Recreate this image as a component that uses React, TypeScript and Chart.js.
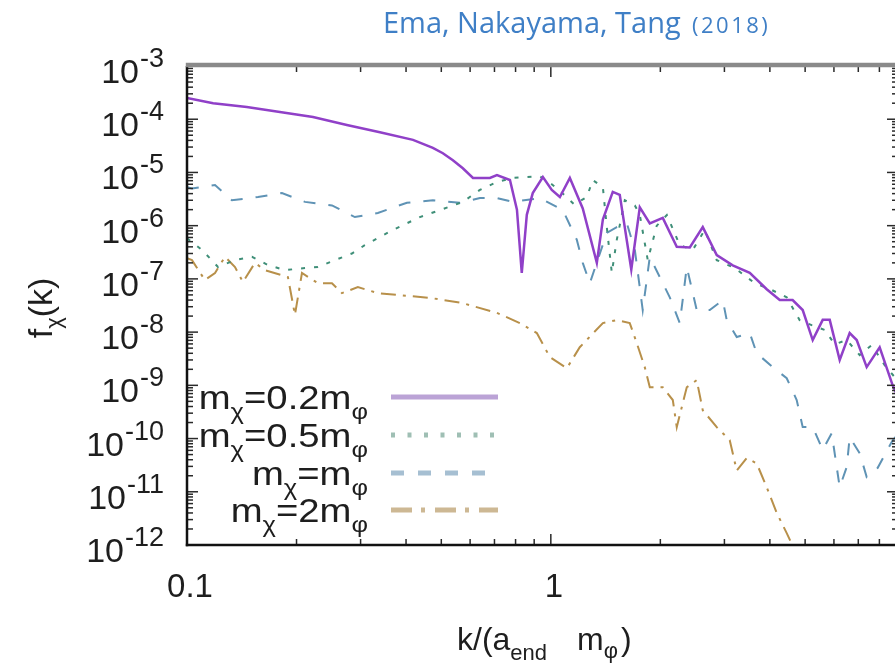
import { useEffect, useRef } from "react";
import { Chart, registerables } from "chart.js";

Chart.register(...registerables);

// Spectra f_chi(k) versus k/(a_end m_phi) for four mass ratios
const k02 = [0.100, 0.118, 0.146, 0.180, 0.222, 0.275, 0.339, 0.418, 0.474, 0.505, 0.538, 0.573, 0.611, 0.680, 0.711, 0.772, 0.807, 0.832, 0.859, 0.892, 0.951, 1.006, 1.059, 1.128, 1.224, 1.338, 1.390, 1.480, 1.547, 1.664, 1.756, 1.871, 2.031, 2.219, 2.41, 2.616, 2.858, 3.162, 3.522, 3.921, 4.258, 4.62, 4.924, 5.246, 5.589, 5.842, 6.223, 6.629, 6.93, 7.382, 8.014, 8.702, 9.0];
const f02 = [2.5e-4, 2.0e-4, 1.7e-4, 1.37e-4, 1.1e-4, 7.8e-5, 5.7e-5, 4.1e-5, 2.9e-5, 2.3e-5, 1.7e-5, 1.2e-5, 7.9e-6, 7.9e-6, 8.9e-6, 7.2e-6, 2.0e-6, 1.3e-7, 1.6e-6, 4.1e-6, 8.2e-6, 4.7e-6, 3.45e-6, 7.9e-6, 2.1e-6, 2.0e-7, 1.3e-6, 4.3e-6, 3.8e-6, 1.5e-7, 2.2e-6, 1.1e-6, 1.4e-6, 4.0e-7, 3.9e-7, 9.4e-7, 2.8e-7, 1.8e-7, 1.3e-7, 6.4e-8, 4.0e-8, 4.0e-8, 2.6e-8, 7.1e-9, 1.7e-8, 1.7e-8, 3.0e-9, 9.6e-9, 7.1e-9, 2.2e-9, 5.2e-9, 1.0e-9, 6.0e-10];

const k05 = [0.100, 0.110, 0.1217, 0.1355, 0.1509, 0.167, 0.1858, 0.211, 0.229, 0.255, 0.284, 0.308, 0.3346, 0.368, 0.4366, 0.4955, 0.5731, 0.6383, 0.7107, 0.7863, 0.9328, 1.006, 1.079, 1.16, 1.256, 1.304, 1.390, 1.425, 1.471, 1.518, 1.597, 1.702, 1.756, 1.847, 1.955, 2.084, 2.262, 2.455, 2.649, 2.858, 3.203, 3.634, 4.046, 4.45, 4.83, 5.21, 5.66, 6.03, 6.505, 7.063, 7.62, 8.27, 9.0];
const f05 = [5.8e-7, 3.5e-7, 1.67e-7, 2.25e-7, 2.6e-7, 1.82e-7, 1.46e-7, 1.6e-7, 1.67e-7, 2.25e-7, 3.0e-7, 4.3e-7, 5.85e-7, 8.3e-7, 1.45e-6, 1.96e-6, 2.8e-6, 4.7e-6, 6.6e-6, 7.9e-6, 8.5e-6, 6.0e-6, 4.0e-6, 2.5e-6, 3.45e-6, 7.2e-6, 5.3e-6, 9.4e-7, 1.3e-7, 5.4e-7, 3.0e-6, 2.4e-6, 1.6e-6, 2.25e-7, 1.0e-6, 1.58e-6, 4.3e-7, 3.5e-7, 8.3e-7, 2.25e-7, 1.6e-7, 8.3e-8, 6.2e-8, 4.5e-8, 1.68e-8, 1.35e-8, 1.1e-8, 5.9e-9, 7.1e-9, 3.7e-9, 5.7e-9, 2.4e-9, 1.2e-9];

const k1 = [0.100, 0.1032, 0.1194, 0.1329, 0.1567, 0.1824, 0.211, 0.2503, 0.2893, 0.3346, 0.4022, 0.474, 0.5623, 0.6383, 0.7107, 0.7863, 0.9328, 1.079, 1.179, 1.224, 1.28, 1.425, 1.518, 1.617, 1.702, 1.789, 1.871, 1.993, 2.123, 2.262, 2.364, 2.518, 2.734, 2.969, 3.044, 3.243, 3.522, 3.681, 4.073, 4.45, 4.74, 4.924, 5.246, 5.589, 5.916, 6.223, 6.505, 6.629, 7.063, 7.382, 7.91, 8.702, 9.0];
const f1 = [5.3e-6, 5.0e-6, 5.8e-6, 3.0e-6, 3.45e-6, 4.1e-6, 2.8e-6, 2.4e-6, 1.45e-6, 1.73e-6, 2.7e-6, 3.0e-6, 2.7e-6, 3.3e-6, 3.3e-6, 2.8e-6, 3.3e-6, 1.96e-6, 5.4e-7, 2.0e-7, 8.3e-8, 7.3e-7, 9.4e-7, 1.12e-6, 3.5e-7, 2.6e-8, 2.6e-7, 1.08e-7, 4.5e-8, 1.48e-8, 1.67e-7, 2.6e-8, 2.6e-8, 4.0e-8, 1.68e-8, 8.1e-9, 9.6e-9, 4.0e-9, 2.2e-9, 1.36e-9, 5.3e-10, 1.64e-10, 1.64e-10, 6.1e-11, 1.26e-10, 1.22e-11, 2.9e-11, 1.06e-10, 5.3e-11, 1.9e-11, 2.8e-11, 9.3e-11, 1.2e-10];

const k2 = [0.100, 0.1032, 0.112, 0.1194, 0.1272, 0.1355, 0.1425, 0.1537, 0.1637, 0.1894, 0.198, 0.207, 0.229, 0.2503, 0.2666, 0.2949, 0.3346, 0.3775, 0.4652, 0.5731, 0.7107, 0.8218, 0.9152, 0.9938, 1.107, 1.201, 1.39, 1.518, 1.648, 1.723, 1.812, 1.871, 2.031, 2.164, 2.219, 2.364, 2.518, 2.616, 2.858, 3.103, 3.243, 3.456, 3.681, 3.921, 4.178, 4.45, 4.68];
const f2 = [2.46e-7, 2.25e-7, 9.5e-8, 1.29e-7, 2.6e-7, 1.67e-7, 8.7e-8, 2.0e-7, 1.46e-7, 1.08e-7, 2.1e-8, 1.29e-7, 8.3e-8, 8.3e-8, 5.4e-8, 7.0e-8, 5.4e-8, 5.0e-8, 4.4e-8, 3.5e-8, 2.3e-8, 1.48e-8, 9.6e-9, 3.4e-9, 2.1e-9, 5.2e-9, 1.48e-8, 1.68e-8, 1.48e-8, 6.2e-9, 2.2e-9, 9.2e-10, 9.2e-10, 5.3e-10, 1.64e-10, 9.2e-10, 1.25e-9, 3.4e-10, 1.64e-10, 9.3e-11, 2.5e-11, 4.3e-11, 3.4e-11, 1.22e-11, 4.0e-12, 1.67e-12, 8.0e-13];

// Axis ranges and tick labels
const X_MIN = 0.1;
const X_MAX = 9;
const Y_MIN = 1e-12;
const Y_MAX = 1e-3;
const xTickValues = [0.1, 1];
const xTickLabels = ["0.1", "1"];
const yTickValues = [1e-12, 1e-11, 1e-10, 1e-9, 1e-8, 1e-7, 1e-6, 1e-5, 1e-4, 1e-3];
const yTickExponents = ["-12", "-11", "-10", "-9", "-8", "-7", "-6", "-5", "-4", "-3"];

// Legend entries: [text, isSubscript] pieces
const legendLabels = [
  [["m", false], ["χ", true], ["=0.2m", false], ["φ", true]],
  [["m", false], ["χ", true], ["=0.5m", false], ["φ", true]],
  [["m", false], ["χ", true], ["=m", false], ["φ", true]],
  [["m", false], ["χ", true], ["=2m", false], ["φ", true]],
] as [string, boolean][][];

const seriesColors = ["#9040c8", "#3f8f78", "#5f93b5", "#b8904a"];
const legendColors = ["#bba3d6", "#9fbfb4", "#a6bfd2", "#cdb894"];
const seriesDash = [[], [4, 9], [12, 13], [15, 7, 3, 7]];
const legendDash = [[], [4, 12.5], [13, 14], [21, 9, 4, 10]];
const seriesWidth = [2.5, 2, 2, 2];

const FONT = '"Liberation Sans", Arial, Helvetica, sans-serif';

type Piece = [string, boolean];

function drawRich(
  ctx: CanvasRenderingContext2D,
  pieces: Piece[],
  x: number,
  baseline: number,
  align: "left" | "right" | "center",
  mainSize: number,
  subSize: number,
  subShift: number,
  stretch = 1
) {
  ctx.save();
  ctx.textAlign = "left";
  ctx.textBaseline = "alphabetic";
  const widths = pieces.map(([t, sub]) => {
    ctx.font = `${sub ? subSize : mainSize}px ${FONT}`;
    return ctx.measureText(t).width;
  });
  const total = widths.reduce((a, b) => a + b, 0) * stretch;
  const start = align === "left" ? x : align === "right" ? x - total : x - total / 2;
  ctx.translate(start, baseline);
  ctx.scale(stretch, 1);
  let cx = 0;
  pieces.forEach(([t, sub], i) => {
    ctx.font = `${sub ? subSize : mainSize}px ${FONT}`;
    ctx.fillText(t, cx, sub ? subShift : 0);
    cx += widths[i];
  });
  ctx.restore();
}

const frame = {
  id: "frame",
  afterDraw(chart: Chart) {
    const ctx = chart.ctx;
    const xs = chart.scales.x;
    const ys = chart.scales.y;
    const { left, right, top, bottom } = chart.chartArea;
    ctx.save();

    const seg = (x1: number, y1: number, x2: number, y2: number) => {
      ctx.beginPath();
      ctx.moveTo(x1, y1);
      ctx.lineTo(x2, y2);
      ctx.stroke();
    };

    // tick marks, mirrored on all four sides
    ctx.strokeStyle = "#2a2a2a";
    ctx.lineWidth = 1.5;
    yTickValues.forEach((v) => {
      const y = ys.getPixelForValue(v);
      seg(left, y, left + 11, y);
      seg(right, y, right - 11, y);
      for (let m = 2; m < 10; m++) {
        const val = v * m;
        if (val >= Y_MAX) break;
        const yy = ys.getPixelForValue(val);
        seg(left, yy, left + 6, yy);
        seg(right, yy, right - 6, yy);
      }
    });
    xTickValues.forEach((v) => {
      const x = xs.getPixelForValue(v);
      seg(x, bottom, x, bottom - 11);
      seg(x, top, x, top + 11);
      for (let m = 2; m < 10; m++) {
        const val = v * m;
        if (val >= X_MAX) break;
        const xx = xs.getPixelForValue(val);
        seg(xx, bottom, xx, bottom - 6);
        seg(xx, top, xx, top + 6);
      }
    });

    // border
    ctx.strokeStyle = "#111";
    ctx.lineWidth = 2.5;
    seg(left, top, left, bottom + 1.2);
    seg(left - 1.2, bottom, right, bottom);
    ctx.lineWidth = 2;
    seg(right, top, right, bottom);
    ctx.strokeStyle = "#8a8a8a";
    ctx.lineWidth = 4.5;
    seg(left - 1.2, top - 1, right, top - 1);

    // y tick labels: 10^n
    ctx.fillStyle = "#1e1e1e";
    yTickValues.forEach((v, i) => {
      const y = ys.getPixelForValue(v);
      ctx.textAlign = "right";
      ctx.textBaseline = "alphabetic";
      ctx.font = `27px ${FONT}`;
      const ew = ctx.measureText(yTickExponents[i]).width;
      ctx.fillText(yTickExponents[i], 164, y + 1);
      ctx.font = `34px ${FONT}`;
      ctx.fillText("10", 164 - ew - 1, y + 17);
    });

    // x tick labels
    ctx.font = `33px ${FONT}`;
    ctx.textAlign = "center";
    xTickValues.forEach((v, i) => {
      const x = xs.getPixelForValue(v);
      ctx.fillText(xTickLabels[i], x + 3, bottom + 52);
    });

    // x axis title
    ctx.textAlign = "left";
    ctx.font = `32px ${FONT}`;
    let tx = 457;
    const xb = 650;
    ctx.fillText("k/(a", tx, xb);
    tx += ctx.measureText("k/(a").width;
    ctx.font = `22px ${FONT}`;
    ctx.fillText("end", tx, xb + 10);
    tx += ctx.measureText("end").width + 30;
    ctx.font = `32px ${FONT}`;
    ctx.fillText("m", tx, xb);
    tx += ctx.measureText("m").width;
    ctx.font = `22px ${FONT}`;
    ctx.fillText("φ", tx, xb + 8);
    tx += ctx.measureText("φ").width + 3;
    ctx.font = `32px ${FONT}`;
    ctx.fillText(")", tx, xb);

    // y axis title
    ctx.save();
    ctx.translate(52, 308);
    ctx.rotate(-Math.PI / 2);
    drawRich(ctx, [["f", false], ["χ", true], ["(k)", false]], 0, 0, "center", 34, 22, 9);
    ctx.restore();

    // key
    const rows = [397, 435, 473, 510];
    rows.forEach((ry, i) => {
      ctx.fillStyle = "#1e1e1e";
      drawRich(ctx, legendLabels[i], 368, ry + 12, "right", 33, 22, 10, 1.16);
      ctx.strokeStyle = legendColors[i];
      ctx.lineWidth = 5;
      ctx.setLineDash(legendDash[i]);
      seg(391, ry, 498, ry);
      ctx.setLineDash([]);
    });

    // heading
    ctx.fillStyle = "#3f7fc6";
    ctx.textAlign = "left";
    ctx.font = `29px "Open Sans", sans-serif`;
    ctx.fillText("Ema, Nakayama, Tang", 383, 33);
    ctx.font = `22px "Open Sans", sans-serif`;
    (ctx as any).letterSpacing = "2.5px";
    ctx.fillText("(2018)", 692, 33);
    (ctx as any).letterSpacing = "0px";

    ctx.restore();
  },
};

function toPoints(ks: number[], fs: number[]) {
  return ks.map((k, i) => ({ x: k, y: fs[i] }));
}

export default function App() {
  const canvasRef = useRef<HTMLCanvasElement | null>(null);

  useEffect(() => {
    const canvas = canvasRef.current;
    if (!canvas) return;
    const series = [
      toPoints(k02, f02),
      toPoints(k05, f05),
      toPoints(k1, f1),
      toPoints(k2, f2),
    ];
    const chart = new Chart(canvas, {
      type: "line",
      data: {
        datasets: series.map((data, i) => ({
          data,
          borderColor: seriesColors[i],
          borderWidth: seriesWidth[i],
          borderDash: seriesDash[i],
          pointRadius: 0,
          tension: 0,
          fill: false,
        })),
      },
      options: {
        responsive: false,
        animation: false,
        devicePixelRatio: 1,
        parsing: false,
        layout: { padding: { left: 187, top: 66, right: 2, bottom: 122 } },
        plugins: {
          legend: { display: false },
          tooltip: { enabled: false },
          title: { display: false },
        },
        scales: {
          x: { type: "logarithmic", min: X_MIN, max: X_MAX, display: false },
          y: { type: "logarithmic", min: Y_MIN, max: Y_MAX, display: false },
        },
      },
      plugins: [frame],
    });
    return () => chart.destroy();
  }, []);

  return (
    <div
      style={{
        position: "fixed",
        left: 0,
        top: 0,
        width: 895,
        height: 667,
        overflow: "hidden",
        background: "#fff",
      }}
    >
      <canvas ref={canvasRef} width={900} height={667} style={{ display: "block" }} />
    </div>
  );
}
